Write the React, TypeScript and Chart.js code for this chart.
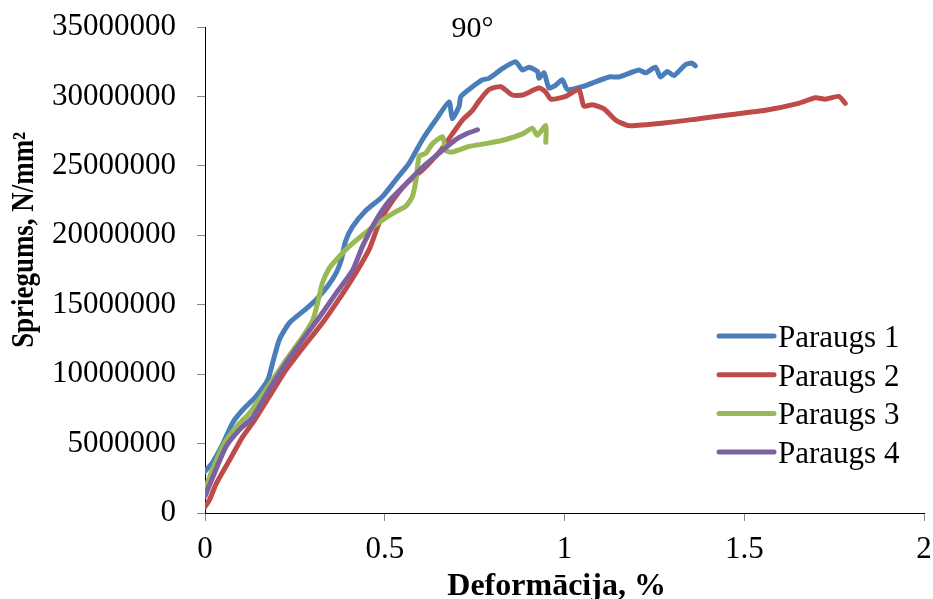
import React, { useEffect, useRef } from "react";
import { Chart, registerables } from "chart.js";

Chart.register(...registerables);

const CHART_TITLE = "90°";
const X_TITLE = "Deformācija, %";
const Y_TITLE = "Spriegums, N/mm²";

const SERIES_NAMES = ["Paraugs 1", "Paraugs 2", "Paraugs 3", "Paraugs 4"];
const SERIES_COLORS = ["#4A7EBB", "#BE4B48", "#98B954", "#7D60A0"];

const X_MIN = 0;
const X_MAX = 2;
const X_STEP = 0.5;
const Y_MIN = 0;
const Y_MAX = 35000000;
const Y_STEP = 5000000;

// Paraugs 1
const P1_X = [0, 0.02, 0.05, 0.077, 0.104, 0.142, 0.175, 0.188, 0.207, 0.235, 0.281, 0.31, 0.34, 0.365, 0.38, 0.39, 0.41, 0.448, 0.494, 0.531, 0.568, 0.605, 0.642, 0.679, 0.688, 0.707, 0.712, 0.744, 0.772, 0.79, 0.827, 0.864, 0.883, 0.901, 0.925, 0.929, 0.943, 0.957, 0.975, 0.994, 1.008, 1.049, 1.124, 1.151, 1.207, 1.226, 1.253, 1.267, 1.286, 1.304, 1.337, 1.355, 1.364];
const P1_Y = [3.0e6, 3.6e6, 5.0e6, 6.5e6, 7.4e6, 8.4e6, 9.6e6, 10.8e6, 12.5e6, 13.7e6, 14.7e6, 15.4e6, 16.3e6, 17.3e6, 18.3e6, 19.5e6, 20.6e6, 21.8e6, 22.8e6, 24.0e6, 25.2e6, 26.9e6, 28.3e6, 29.6e6, 28.4e6, 29.3e6, 30.0e6, 30.7e6, 31.2e6, 31.3e6, 32.0e6, 32.5e6, 31.9e6, 32.1e6, 31.8e6, 31.3e6, 31.7e6, 30.6e6, 30.8e6, 31.2e6, 30.5e6, 30.7e6, 31.4e6, 31.4e6, 31.9e6, 31.7e6, 32.1e6, 31.4e6, 31.8e6, 31.5e6, 32.3e6, 32.4e6, 32.2e6];

// Paraugs 2
const P2_X = [0, 0.0125, 0.031, 0.068, 0.105, 0.133, 0.179, 0.225, 0.281, 0.327, 0.383, 0.42, 0.457, 0.485, 0.522, 0.559, 0.605, 0.642, 0.67, 0.688, 0.716, 0.744, 0.763, 0.79, 0.823, 0.855, 0.883, 0.929, 0.948, 0.962, 1.003, 1.04, 1.054, 1.077, 1.11, 1.142, 1.179, 1.281, 1.374, 1.466, 1.559, 1.651, 1.698, 1.726, 1.763, 1.781];
const P2_Y = [0.45e6, 0.94e6, 2.1e6, 3.8e6, 5.5e6, 6.5e6, 8.4e6, 10.3e6, 12.2e6, 13.7e6, 15.8e6, 17.3e6, 19.0e6, 20.9e6, 22.5e6, 23.7e6, 24.7e6, 25.7e6, 26.6e6, 27.3e6, 28.3e6, 29.0e6, 29.7e6, 30.5e6, 30.7e6, 30.1e6, 30.1e6, 30.6e6, 30.3e6, 29.8e6, 30.0e6, 30.5e6, 29.3e6, 29.4e6, 29.1e6, 28.3e6, 27.9e6, 28.1e6, 28.4e6, 28.7e6, 29.0e6, 29.5e6, 29.9e6, 29.8e6, 30.0e6, 29.5e6];

// Paraugs 3
const P3_X = [0, 0.0125, 0.049, 0.087, 0.124, 0.17, 0.225, 0.272, 0.3, 0.313, 0.327, 0.345, 0.364, 0.401, 0.457, 0.494, 0.531, 0.559, 0.577, 0.587, 0.596, 0.614, 0.633, 0.661, 0.67, 0.688, 0.735, 0.781, 0.837, 0.883, 0.911, 0.924, 0.948, 0.948];
const P3_Y = [1.66e6, 2.6e6, 4.8e6, 6.2e6, 7.2e6, 8.9e6, 11.0e6, 12.7e6, 13.9e6, 15.1e6, 16.6e6, 17.6e6, 18.2e6, 19.2e6, 20.4e6, 21.1e6, 21.7e6, 22.1e6, 22.8e6, 24.0e6, 25.7e6, 25.9e6, 26.6e6, 27.1e6, 26.1e6, 26.0e6, 26.4e6, 26.6e6, 26.9e6, 27.3e6, 27.7e6, 27.2e6, 27.9e6, 26.7e6];

// Paraugs 4
const P4_X = [0, 0.022, 0.059, 0.096, 0.133, 0.179, 0.225, 0.272, 0.318, 0.364, 0.411, 0.438, 0.476, 0.513, 0.559, 0.605, 0.651, 0.698, 0.726, 0.758];
const P4_Y = [1.2e6, 2.6e6, 4.8e6, 6.0e6, 6.9e6, 8.9e6, 10.8e6, 12.5e6, 14.1e6, 15.8e6, 17.5e6, 19.2e6, 21.1e6, 22.5e6, 23.7e6, 24.9e6, 25.9e6, 26.9e6, 27.3e6, 27.6e6];

const SERIES_X = [P1_X, P2_X, P3_X, P4_X];
const SERIES_Y = [P1_Y, P2_Y, P3_Y, P4_Y];

const FONT = '"Liberation Serif", "Times New Roman", serif';

const textPlugin = {
  id: "customTexts",
  afterDraw(chart: any) {
    const { ctx, chartArea } = chart;
    const w = chartArea.right - chartArea.left;
    const h = chartArea.bottom - chartArea.top;
    ctx.save();
    ctx.fillStyle = "#000";

    // chart title
    ctx.font = `30px ${FONT}`;
    ctx.textAlign = "center";
    ctx.textBaseline = "alphabetic";
    ctx.fillText(CHART_TITLE, chartArea.left + w * 0.372, 37);

    // x axis title
    ctx.font = `bold 32px ${FONT}`;
    ctx.fillText(X_TITLE, chartArea.left + w * 0.489, 595);

    // y axis title (rotated)
    ctx.save();
    ctx.translate(33, chartArea.top + h * 0.438);
    ctx.rotate(-Math.PI / 2);
    ctx.font = `bold 31px ${FONT}`;
    const tw = ctx.measureText(Y_TITLE).width;
    const sx = Math.min(1, 216 / tw);
    ctx.scale(sx, 1);
    ctx.textAlign = "center";
    ctx.fillText(Y_TITLE, 0, 0);
    ctx.restore();

    // legend
    const lx = chartArea.right - 205;
    const ly = chartArea.top + 309;
    const rowH = 38.7;
    chart.data.datasets.forEach((ds: any, i: number) => {
      const y = ly + i * rowH;
      ctx.strokeStyle = ds.borderColor;
      ctx.lineWidth = 5;
      ctx.lineCap = "round";
      ctx.beginPath();
      ctx.moveTo(lx, y);
      ctx.lineTo(lx + 55, y);
      ctx.stroke();
      ctx.font = `31px ${FONT}`;
      ctx.textAlign = "left";
      ctx.textBaseline = "alphabetic";
      ctx.fillStyle = "#000";
      ctx.fillText(ds.label, lx + 59, y + 11);
    });
    ctx.restore();
  },
};

export default function App() {
  const canvasRef = useRef<HTMLCanvasElement | null>(null);

  useEffect(() => {
    if (!canvasRef.current) return;
    const datasets = SERIES_NAMES.map((name, i) => ({
      label: name,
      data: SERIES_X[i].map((x, j) => ({ x, y: SERIES_Y[i][j] })),
      borderColor: SERIES_COLORS[i],
      backgroundColor: SERIES_COLORS[i],
      borderWidth: 5,
      pointRadius: 0,
      pointHoverRadius: 0,
      showLine: true,
      tension: 0.2,
      borderCapStyle: "round" as const,
      borderJoinStyle: "round" as const,
      order: SERIES_NAMES.length - i,
    }));

    const chart = new Chart(canvasRef.current, {
      type: "scatter",
      data: { datasets },
      plugins: [textPlugin],
      options: {
        animation: false,
        responsive: false,
        maintainAspectRatio: false,
        layout: { padding: { top: 27, right: 9, left: 0, bottom: 0 } },
        plugins: {
          legend: { display: false },
          tooltip: { enabled: false },
          title: { display: false },
        },
        scales: {
          x: {
            type: "linear",
            min: X_MIN,
            max: X_MAX,
            ticks: {
              stepSize: X_STEP,
              color: "#000",
              padding: 10,
              font: { family: FONT, size: 31 },
              callback: (v: any) => String(v),
            },
            grid: {
              drawOnChartArea: false,
              drawTicks: true,
              tickLength: 8,
              color: "#868686",
            },
            border: { color: "#000", width: 1 },
            afterFit: (s: any) => {
              s.height = 86;
              s.paddingLeft = 0;
              s.paddingRight = 0;
            },
          },
          y: {
            type: "linear",
            min: Y_MIN,
            max: Y_MAX,
            ticks: {
              stepSize: Y_STEP,
              color: "#000",
              padding: 21,
              font: { family: FONT, size: 31 },
              callback: (v: any) => String(v),
            },
            grid: {
              drawOnChartArea: false,
              drawTicks: true,
              tickLength: 8,
              color: "#868686",
            },
            border: { color: "#000", width: 1 },
            afterFit: (s: any) => {
              s.width = 205;
              s.paddingTop = 0;
              s.paddingBottom = 0;
            },
          },
        },
      },
    });
    return () => chart.destroy();
  }, []);

  return (
    <div style={{ position: "fixed", left: 0, top: 0, width: 933, height: 599, background: "#fff" }}>
      <canvas ref={canvasRef} width={933} height={599} style={{ width: 933, height: 599, display: "block" }} />
    </div>
  );
}
